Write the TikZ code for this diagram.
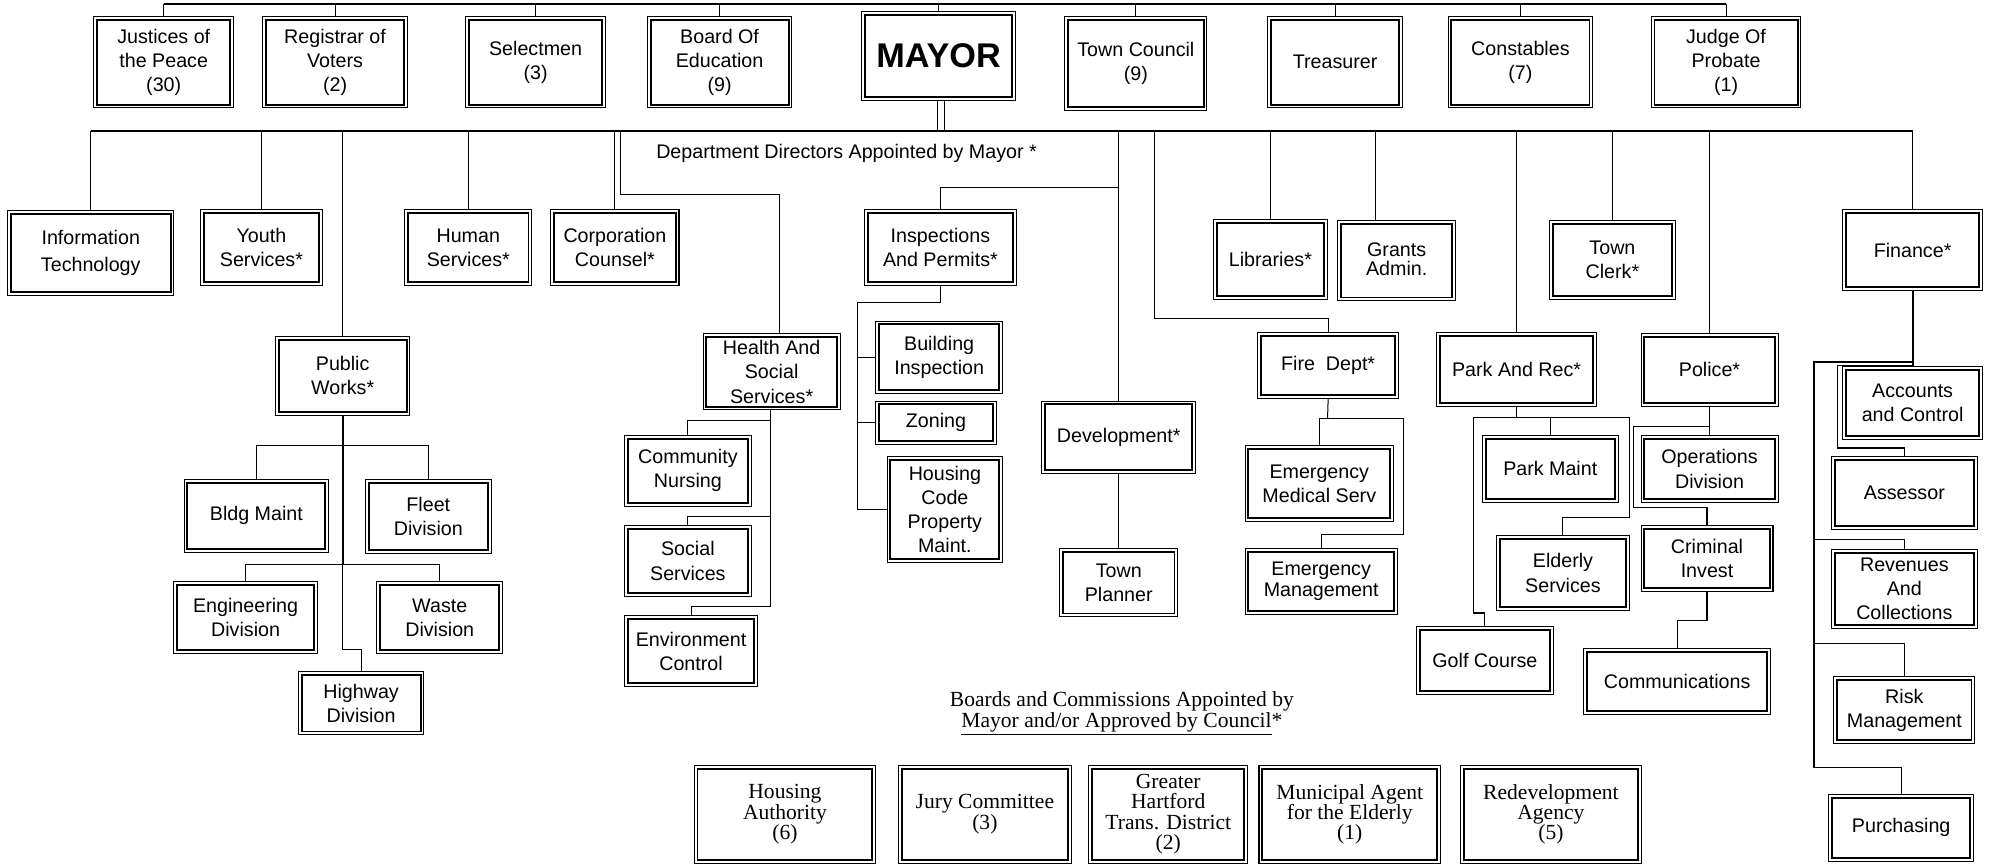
\documentclass[tikz,border=0pt]{standalone}
\usepackage{fontspec}
\setmainfont{Liberation Sans}
\newfontfamily\serifbx{Liberation Serif}
\newcommand{\bx}[7][]{%
  \pgfmathsetmacro\bxw{#5-#3}\pgfmathsetmacro\bxh{#6-#4}%
  \node[box,minimum width=\bxw pt,minimum height=\bxh pt,#1] (#2) at ({(#3+#5)/2},{(#4+#6)/2}) {#7};%
  \draw[innerframe] ([shift={(3pt,-3pt)}]#2.north west) rectangle ([shift={(-3pt,3pt)}]#2.south east);%
}
\begin{document}
\begin{tikzpicture}[x=1pt,y=-1pt,
  box/.style={draw, line width=0.8pt, rectangle, inner sep=0pt, align=center, font=\fontsize{15.5}{19}\selectfont},
  innerframe/.style={line width=1.5pt},
  sbox/.style={font=\serifbx\fontsize{17}{16}\selectfont},
  conn/.style={line width=0.8pt},
  thk/.style={line width=1.6pt},
  lbl/.style={inner sep=0pt, align=center}]
\useasboundingbox (0,0) rectangle (1568,682);
\coordinate (top) at (0,3);
\coordinate (bus) at (0,103);

% top row
\bx{jp}{74}{13}{184}{85}{Justices of\\the Peace\\(30)}
\bx{rv}{207}{13}{321}{85}{Registrar of\\Voters\\(2)}
\bx{sel}{367}{13}{477}{85}{Selectmen\\(3)}
\bx{boe}{510}{13}{624}{85}{Board Of\\Education\\(9)}
\bx[font=\bfseries\fontsize{27}{30}\selectfont]{mayor}{679}{9}{800}{79}{MAYOR}
\bx{tc}{839}{13}{951}{87}{Town Council\\(9)}
\bx{tre}{999}{13}{1105}{85}{Treasurer}
\bx{con}{1141}{13}{1255}{85}{Constables\\(7)}
\bx{jop}{1301}{13}{1419}{85}{Judge Of\\Probate\\(1)}

% second row
\bx{it}{6}{166}{137}{233}{Information\\[2pt]Technology}
\bx{ys}{158}{165}{254}{225}{Youth\\Services*}
\bx{hum}{319}{165}{419}{225}{Human\\Services*}
\bx{cc}{434}{165}{535}{225}{Corporation\\Counsel*}
\bx{ip}{681}{165}{801}{225}{Inspections\\And Permits*}
\bx{lib}{956}{173}{1046}{236}{Libraries*}
\bx{ga}{1054}{174}{1147}{237}{\raisebox{-6pt}{\begin{tabular}{@{}c@{}}Grants\\[-4pt]Admin.\end{tabular}}}
\bx{tcl}{1221}{174}{1320}{236}{Town\\Clerk*}
\bx{fin}{1452}{165}{1562}{229}{Finance*}

% public works
\bx{pw}{217}{265}{323}{327}{Public\\Works*}
\bx{bm}{145}{378}{259}{435}{Bldg Maint}
\bx{fl}{288}{378}{387}{436}{Fleet\\Division}
\bx{en}{137}{458}{250}{515}{Engineering\\Division}
\bx{wd}{297}{458}{396}{515}{Waste\\Division}
\bx{hw}{235}{529}{334}{579}{Highway\\Division}

% health
\bx{hs}{554}{263}{662}{323}{Health And\\Social\\Services*}
\bx{cn}{492}{343}{592}{399}{Community\\Nursing}
\bx{ss}{492}{414}{592}{470}{Social\\Services}
\bx{ec}{492}{485}{597}{541}{Environment\\Control}

% inspections
\bx{bi}{690}{253}{790}{310}{Building\\Inspection}
\bx{zon}{690}{316}{785}{350}{Zoning}
\bx{hc}{699}{360}{790}{443}{Housing\\Code\\Property\\Maint.}

% development
\bx{dev}{821}{316}{942}{373}{Development*}
\bx{tp}{835}{432}{928}{486}{Town\\Planner}

% fire
\bx{fd}{991}{262}{1102}{314}{Fire~~Dept*}
\bx{ems}{981}{351}{1098}{411}{Emergency\\Medical Serv}
\bx{em}{981}{432}{1101}{484}{Emergency\\[-3pt]Management}

% park and rec
\bx{pr}{1132}{262}{1258}{320}{Park And Rec*}
\bx{pm}{1168}{343}{1275}{396}{Park Maint}
\bx{es}{1179}{422}{1284}{481}{Elderly\\Services}
\bx{gc}{1116}{494}{1224}{547}{Golf Course}

% police
\bx{pol}{1293}{263}{1401}{320}{Police*}
\bx{od}{1293}{343}{1401}{396}{Operations\\Division}
\bx{ci}{1293}{414}{1397}{466}{Criminal\\Invest}
\bx{com}{1248}{511}{1395}{563}{Communications}

% finance
\bx{ac}{1452}{289}{1562}{346}{Accounts\\and Control}
\bx{as}{1443}{360}{1558}{417}{Assessor}
\bx{rc}{1443}{433}{1558}{495}{Revenues\\And\\Collections}
\bx{rm}{1445}{533}{1556}{586}{Risk\\Management}
\bx{pu}{1441}{626}{1555}{679}{\raisebox{4pt}{Purchasing}}

% boards
\bx[sbox]{ha}{547}{603}{690}{680}{Housing\\Authority\\(6)}
\bx[sbox]{jc}{708}{603}{844}{680}{Jury Committee\\(3)}
\bx[sbox]{gh}{858}{603}{983}{680}{Greater\\Hartford\\Trans. District\\(2)}
\bx[sbox]{ma}{992}{603}{1135}{680}{Municipal Agent\\for the Elderly\\(1)}
\bx[sbox]{ra}{1151}{603}{1293}{680}{Redevelopment\\Agency\\(5)}

% texts
\node[lbl, font=\fontsize{15.5}{19}\selectfont] (ddtext) at (667,121) {Department Directors Appointed by Mayor *};
\node[lbl, font=\serifbx\fontsize{17}{17}\selectfont] (bchead) at (884,562) {Boards and Commissions Appointed by\\\underline{Mayor and/or Approved by Council}*};

% top connectors
\draw[line width=1.2pt] (jp.north |- top) -- (jop.north |- top);
\foreach \n in {jp,rv,sel,boe,mayor,tc,tre,con,jop} \draw[conn] (\n.north) -- (\n.north |- top);
\draw[conn] ([xshift=-1pt]mayor.south) -- ([xshift=-1pt]mayor.south |- bus);
\draw[conn] ([xshift=5pt]mayor.south) -- ([xshift=5pt]mayor.south |- bus);

% department bus
\draw[thk] (it.north |- bus) -- (fin.north |- bus);
\foreach \n in {it,ys,pw,hum,cc,lib,pr,tcl,pol,fin,dev} \draw[conn] (\n.north) -- (\n.north |- bus);
\draw[conn] ([xshift=-17pt]ga.north) -- ([xshift=-17pt]ga.north |- bus);
\coordinate (hsr) at (489,153);
\draw[conn] ([xshift=6pt]hs.north) |- (hsr) -- (hsr |- bus);
\coordinate (ipy) at (0,148);
\draw[conn] (ip.north) |- (dev.north |- ipy);
\coordinate (fdr) at (910,251);
\draw[conn] (fd.north) |- (fdr) -- (fdr |- bus);

% public works
\coordinate (pwa) at (270,351);
\coordinate (pwb) at (270,445);
\coordinate (pwc) at (270,512);
\draw[thk] (pw.south) -- (pwb);
\draw[conn] (pwb) -- (pwc) -| (hw.north);
\draw[conn] (bm.north) |- (pwa) -| (fl.north);
\draw[conn] (en.north) |- (pwb) -| (wd.north);

% health
\coordinate (hsa) at (607,331);
\coordinate (hsb) at (607,407);
\coordinate (hsc) at (607,478);
\draw[conn] ([xshift=-1pt]hs.south) -- (hsc);
\draw[conn] (cn.north) |- (hsa);
\draw[conn] (ss.north) |- (hsb);
\draw[conn] (ec.north) |- (hsc);

% inspections
\coordinate (ipa) at (676,238);
\draw[conn] (ip.south) |- (ipa) -- (ipa |- hc.west) -- (hc.west);
\draw[conn] (ipa |- bi.west) -- (bi.west);
\draw[conn] (ipa |- zon.west) -- (zon.west);

% development
\draw[conn] (dev.south) -- (tp.north);

% fire
\coordinate (fda) at (1046,330);
\coordinate (fdb) at (1106,421);
\draw[conn] (fd.south) -- (fda);
\draw[conn] (ems.north) |- (fdb |- fda) -- (fdb) -| (em.north);

% park and rec
\coordinate (pra) at (1195,329);
\coordinate (prl) at (1161,483);
\coordinate (prr) at (1284,408);
\draw[conn] (pr.south) -- (pra);
\draw[conn] (gc.north) |- (prl) -- (prl |- pra) -- (prr |- pra) -- (prr) -| (es.north);
\draw[conn] (pm.north) -- (pm.north |- pra);

% police
\coordinate (pola) at (1287,336);
\coordinate (polb) at (1287,400);
\coordinate (cia) at (0,489);
\draw[conn] (pol.south) -- (od.north);
\draw[conn] (pol.south |- pola) -- (pola) -- (polb) -| (ci.north);
\draw[conn] (ci.south) |- (com.north |- cia) -- (com.north);

% finance
\coordinate (fa) at (1429,285);
\coordinate (fb) at (1448,288);
\coordinate (fc) at (1448,353);
\coordinate (frc) at (1429,425);
\coordinate (frm) at (1429,507);
\coordinate (fpu) at (1429,605);
\draw[thk] (fin.south) -- (ac.north);
\draw[thk] (fin.south |- fa) -- (fa) -- (fpu);
\draw[conn] (fin.south |- fb) -- (fb) -- (fc) -| (as.north);
\draw[conn] (frc) -| (rc.north);
\draw[conn] (frm) -| (rm.north);
\draw[conn] (fpu) -| (pu.north);
\end{tikzpicture}
\end{document}
